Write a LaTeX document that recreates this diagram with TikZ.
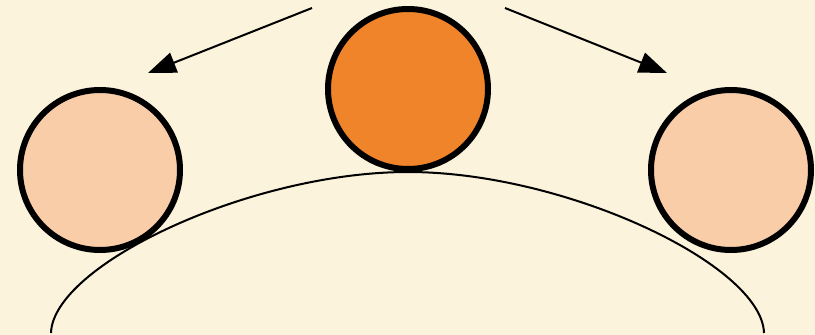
\documentclass[tikz,border=0pt]{standalone}
\usetikzlibrary{arrows.meta}
\definecolor{bgcream}{HTML}{FCF3DC}
\definecolor{peach}{HTML}{F9CDA8}
\definecolor{orangec}{HTML}{F0842A}
\tikzset{
  ball/.style={circle, draw=black, line width=6pt, minimum size=160pt, inner sep=0pt},
  moveline/.style={line width=2pt, -{Triangle[length=28pt,width=21pt]}},
  track/.style={line width=2pt}
}
\begin{document}
\begin{tikzpicture}[x=1pt,y=-1pt]
  \fill[bgcream] (0,0) rectangle (815,335);
  \useasboundingbox (0,0) rectangle (815,335);
  % track curve
  \coordinate (tl) at (51,333);
  \coordinate (tt) at (408,172);
  \coordinate (tr) at (764,333);
  \draw[track] (tl) .. controls (53,265) and (250,172) .. (tt)
               .. controls (566,172) and (762,265) .. (tr);
  % balls
  \node[ball, fill=peach] (left) at (100,170) {};
  \node[ball, fill=orangec] (mid) at (408,89) {};
  \node[ball, fill=peach] (right) at (731,170) {};
  % arrows
  \coordinate (la) at (312,8);
  \coordinate (lb) at (148,73);
  \coordinate (ra) at (505,8);
  \coordinate (rb) at (667,73);
  \draw[moveline] (la) -- (lb);
  \draw[moveline] (ra) -- (rb);
\end{tikzpicture}
\end{document}
